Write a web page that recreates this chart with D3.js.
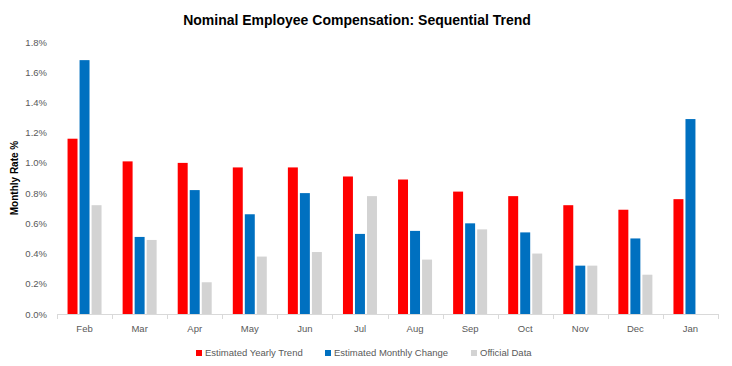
<!DOCTYPE html>
<html>
<head>
<meta charset="utf-8">
<script src="https://cdn.jsdelivr.net/npm/d3@7"></script>
<style>
  body { margin: 0; background: #fff; }
  svg { display: block; font-family: "Liberation Sans", Arial, sans-serif; }
</style>
</head>
<body>
<div id="chart"></div>
<script>
"use strict";

var months = ["Feb", "Mar", "Apr", "May", "Jun", "Jul", "Aug", "Sep", "Oct", "Nov", "Dec", "Jan"];
var seriesNames = ["Estimated Yearly Trend", "Estimated Monthly Change", "Official Data"];
var yearlyTrend = [1.16, 1.01, 1.00, 0.97, 0.97, 0.91, 0.89, 0.81, 0.78, 0.72, 0.69, 0.76];
var monthlyChange = [1.68, 0.51, 0.82, 0.66, 0.80, 0.53, 0.55, 0.60, 0.54, 0.32, 0.50, 1.29];
var officialData = [0.72, 0.49, 0.21, 0.38, 0.41, 0.78, 0.36, 0.56, 0.40, 0.32, 0.26, null];
var yTicks = [0, 0.2, 0.4, 0.6, 0.8, 1.0, 1.2, 1.4, 1.6, 1.8];

var colors = ["#ff0000", "#0070c0", "#d3d3d3"];
var allSeries = [yearlyTrend, monthlyChange, officialData];

var width = 732, height = 366;
var margin = {top: 42, right: 14, bottom: 52, left: 57};

var svg = d3.select("#chart").append("svg")
    .attr("width", width)
    .attr("height", height);

var x0 = d3.scaleBand()
    .domain(months)
    .range([margin.left, width - margin.right])
    .paddingInner(0)
    .paddingOuter(0);

// bar group is narrower than the month band
var groupW = 34;
var x1 = d3.scaleBand()
    .domain(seriesNames)
    .range([(x0.bandwidth() - groupW) / 2, (x0.bandwidth() + groupW) / 2])
    .paddingInner(0.17)
    .paddingOuter(0);

var y = d3.scaleLinear()
    .domain([0, 1.8])
    .range([height - margin.bottom, margin.top]);

// title
svg.append("text")
    .attr("x", 357)
    .attr("y", 25)
    .attr("text-anchor", "middle")
    .style("font-size", "14px")
    .style("font-weight", "bold")
    .attr("fill", "#000")
    .text("Nominal Employee Compensation: Sequential Trend");

// y axis (labels only)
svg.append("g")
    .attr("transform", "translate(" + (margin.left - 10) + ",0)")
    .call(d3.axisLeft(y).tickValues(yTicks).tickSize(0).tickFormat(function(d) { return d3.format(".1f")(d) + "%"; }))
    .call(function(g) { g.select(".domain").remove(); })
    .call(function(g) {
        g.selectAll("text")
            .attr("fill", "#595959")
            .style("font-size", "9.5px")
            .attr("x", 0);
    });

// y axis title
svg.append("text")
    .attr("transform", "translate(18," + ((margin.top + height - margin.bottom) / 2) + ") rotate(-90)")
    .attr("text-anchor", "middle")
    .style("font-size", "10px")
    .style("font-weight", "bold")
    .attr("fill", "#000")
    .text("Monthly Rate %");

// bars
var groups = svg.selectAll(".month")
    .data(months)
    .enter().append("g")
    .attr("class", "month")
    .attr("transform", function(d) { return "translate(" + x0(d) + ",0)"; });

groups.selectAll("rect")
    .data(function(m, i) {
        return seriesNames.map(function(s, j) { return {series: s, value: allSeries[j][i], color: colors[j]}; })
            .filter(function(d) { return d.value != null; });
    })
    .enter().append("rect")
    .attr("x", function(d) { return x1(d.series); })
    .attr("width", x1.bandwidth())
    .attr("y", function(d) { return y(d.value); })
    .attr("height", function(d) { return y(0) - y(d.value); })
    .attr("fill", function(d) { return d.color; });

// x axis
var tickEdges = months.map(function(m) { return x0(m); }).concat([x0.range()[1]]);
var xg = svg.append("g");
xg.append("line")
    .attr("x1", x0.range()[0]).attr("x2", x0.range()[1])
    .attr("y1", y(0) + 0.5).attr("y2", y(0) + 0.5)
    .attr("stroke", "#d9d9d9");
xg.selectAll(".tk")
    .data(tickEdges)
    .enter().append("line")
    .attr("x1", function(d) { return Math.round(d) + 0.5; })
    .attr("x2", function(d) { return Math.round(d) + 0.5; })
    .attr("y1", y(0)).attr("y2", y(0) + 5)
    .attr("stroke", "#d9d9d9");
xg.selectAll(".lbl")
    .data(months)
    .enter().append("text")
    .attr("x", function(d) { return x0(d) + x0.bandwidth() / 2; })
    .attr("y", 332)
    .attr("text-anchor", "middle")
    .style("font-size", "9.5px")
    .attr("fill", "#595959")
    .text(function(d) { return d; });

// legend
var legendX = [196, 325, 471];
var legend = svg.selectAll(".legend")
    .data(seriesNames)
    .enter().append("g")
    .attr("class", "legend")
    .attr("transform", function(d, i) { return "translate(" + legendX[i] + ",350)"; });
legend.append("rect")
    .attr("width", 6).attr("height", 6)
    .attr("fill", function(d, i) { return colors[i]; });
legend.append("text")
    .attr("x", 9)
    .attr("y", 6)
    .style("font-size", "9.5px")
    .attr("fill", "#595959")
    .text(function(d) { return d; });
</script>
</body>
</html>
